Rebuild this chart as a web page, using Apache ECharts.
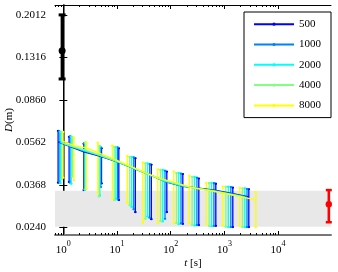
<!DOCTYPE html>
<html><head><meta charset="utf-8">
<script src="https://cdn.jsdelivr.net/npm/echarts@6/dist/echarts.min.js"></script>
<style>html,body{margin:0;padding:0;background:#fff}#c{width:338px;height:272px}</style>
</head><body><div id="c"></div>
<script>
// ---------- data ----------
const seriesNames = ['500', '1000', '2000', '4000', '8000'];
const yTickLabels = ['0.0240', '0.0368', '0.0562', '0.0860', '0.1316', '0.2012'];
const xTickExponents = [0, 1, 2, 3, 4];

const times500  = [0.800, 1.282, 2.409, 5.145, 10.80, 21.92, 43.52, 84.6, 168.0, 333.7, 691.6, 1433, 2848];
const mean500   = [0.0565, 0.0542, 0.0511, 0.0488, 0.0460, 0.0431, 0.0404, 0.0378, 0.0362, 0.0356, 0.0348, 0.0337, 0.0326];
const hi500     = [0.0632, 0.0595, 0.0555, 0.0530, 0.0530, 0.0480, 0.0450, 0.0420, 0.0410, 0.0392, 0.0372, 0.0358, 0.0352];
const lo500     = [0.0376, 0.0378, 0.0349, 0.0373, 0.0316, 0.0280, 0.0261, 0.0280, 0.0249, 0.0246, 0.0244, 0.0241, 0.0241];

const times1000 = [0.835, 1.335, 2.461, 4.985, 10.22, 20.46, 40.47, 78.3, 155.5, 307.5, 637.7, 1316, 2636];
const mean1000  = [0.0565, 0.0542, 0.0514, 0.0492, 0.0463, 0.0434, 0.0407, 0.0381, 0.0365, 0.0356, 0.0348, 0.0337, 0.0326];
const hi1000    = [0.0628, 0.0598, 0.0558, 0.0535, 0.0535, 0.0484, 0.0453, 0.0424, 0.0412, 0.0395, 0.0374, 0.0360, 0.0353];
const lo1000    = [0.0380, 0.0376, 0.0352, 0.0360, 0.0320, 0.0288, 0.0265, 0.0262, 0.0250, 0.0246, 0.0244, 0.0241, 0.0241];

const times2000 = [0.881, 1.403, 2.525, 4.783, 9.54, 18.78, 36.98, 71.1, 141.2, 277.5, 575.3, 1182, 2399];
const mean2000  = [0.0562, 0.0540, 0.0517, 0.0494, 0.0466, 0.0437, 0.0410, 0.0384, 0.0367, 0.0356, 0.0348, 0.0337, 0.0326];
const hi2000    = [0.0625, 0.0596, 0.0560, 0.0540, 0.0537, 0.0487, 0.0456, 0.0427, 0.0414, 0.0398, 0.0375, 0.0361, 0.0355];
const lo2000    = [0.0374, 0.0372, 0.0350, 0.0330, 0.0318, 0.0295, 0.0268, 0.0255, 0.0248, 0.0245, 0.0243, 0.0241, 0.0241];

const times4000 = [0.930, 1.477, 2.596, 4.603, 8.89, 17.24, 33.73, 64.6, 128.2, 250.9, 520.0, 1062, 2174];
const mean4000  = [0.0562, 0.0540, 0.0520, 0.0496, 0.0470, 0.0442, 0.0415, 0.0389, 0.0372, 0.0358, 0.0348, 0.0337, 0.0326];
const hi4000    = [0.0622, 0.0592, 0.0562, 0.0545, 0.0537, 0.0487, 0.0456, 0.0427, 0.0414, 0.0398, 0.0375, 0.0361, 0.0355];
const lo4000    = [0.0390, 0.0400, 0.0352, 0.0327, 0.0316, 0.0300, 0.0262, 0.0256, 0.0251, 0.0247, 0.0244, 0.0242, 0.0241];

const times8000 = [0.991, 1.569, 2.682, 4.390, 8.18, 15.55, 30.22, 57.5, 114.2, 222.0, 460.3, 933.8, 1936, 3843];
const mean8000  = [0.0568, 0.0545, 0.0532, 0.0508, 0.0479, 0.0449, 0.0420, 0.0394, 0.0377, 0.0360, 0.0350, 0.0339, 0.0328, 0.0316];
const hi8000    = [0.0625, 0.0590, 0.0561, 0.0561, 0.0545, 0.0490, 0.0460, 0.0430, 0.0420, 0.0402, 0.0375, 0.0361, 0.0357, 0.0343];
const lo8000    = [0.0395, 0.0385, 0.0355, 0.0340, 0.0320, 0.0307, 0.0251, 0.0251, 0.0251, 0.0250, 0.0248, 0.0245, 0.0244, 0.0241];

// reference points: [t, mean, lo, hi]
const blackPoint = [0.95, 0.1408, 0.1061, 0.2014];
const redPoint = [87900, 0.0303, 0.0253, 0.0349];
const bandRange = [0.0242, 0.0347];

// ---------- styling / layout ----------
const colors = ['#0000ff', '#0080ff', '#00ffff', '#80ff80', '#ffff00'];
const allTimes = [times500, times1000, times2000, times4000, times8000];
const allMean = [mean500, mean1000, mean2000, mean4000, mean8000];
const allLo = [lo500, lo1000, lo2000, lo4000, lo8000];
const allHi = [hi500, hi1000, hi2000, hi4000, hi8000];

const L = Math.log10;
const xMin = L(0.7), xMax = 4.985;
const yStep = (L(0.2012) - L(0.0240)) / 5;
const yMin = L(0.0240) - 0.176 * yStep, yMax = L(0.0240) + 5.235 * yStep;
const yTicks = yTickLabels.map(s => L(parseFloat(s)));
const minorX = [];
for (let e = -1; e < 4; e++) for (let m = 2; m <= 9; m++) { const v = L(m * Math.pow(10, e)); if (v >= xMin) minorX.push(v); }
const serif = 'Liberation Serif, Times New Roman, serif';

function errRender(color, lw, capW, dotR) {
  return function (params, api) {
    const x = api.value(0);
    const pLo = api.coord([x, api.value(1)]);
    const pHi = api.coord([x, api.value(2)]);
    const ch = [
      { type: 'line', shape: { x1: pLo[0], y1: pLo[1], x2: pHi[0], y2: pHi[1] }, style: { stroke: color, lineWidth: lw } },
      { type: 'line', shape: { x1: pLo[0] - capW, y1: pLo[1], x2: pLo[0] + capW, y2: pLo[1] }, style: { stroke: color, lineWidth: lw } },
      { type: 'line', shape: { x1: pHi[0] - capW, y1: pHi[1], x2: pHi[0] + capW, y2: pHi[1] }, style: { stroke: color, lineWidth: lw } }
    ];
    if (dotR > 0) {
      ch.push({ type: 'circle', shape: { cx: pLo[0], cy: pLo[1], r: dotR }, style: { fill: color } });
      ch.push({ type: 'circle', shape: { cx: pHi[0], cy: pHi[1], r: dotR }, style: { fill: color } });
    }
    return { type: 'group', children: ch };
  };
}

const series = [];
series.push({
  type: 'line', data: [], silent: true, z: 0,
  markArea: { silent: true, itemStyle: { color: '#e8e8e8' }, data: [[{ yAxis: L(bandRange[0]) }, { yAxis: L(bandRange[1]) }]] }
});
for (let s = 0; s < 5; s++) {
  series.push({
    type: 'custom', z: 2, silent: true,
    renderItem: errRender(colors[s], 1.3, 1.2, 1.1),
    data: allTimes[s].map((t, i) => [L(t), L(allLo[s][i]), L(allHi[s][i])])
  });
}
for (let s = 0; s < 5; s++) {
  series.push({
    type: 'line', name: seriesNames[s], z: 3, silent: true,
    symbol: 'circle', symbolSize: 2, showSymbol: false,
    lineStyle: { color: colors[s], width: 1.3 }, itemStyle: { color: colors[s] },
    data: allTimes[s].map((t, i) => [L(t), L(allMean[s][i])])
  });
}
series.push({
  type: 'custom', z: 4, silent: true, renderItem: (p, api) => {
    const g = errRender('#000', 3, 3.5, 0)(p, api);
    const c = api.coord([api.value(0), api.value(3)]);
    g.children.push({ type: 'circle', shape: { cx: c[0], cy: c[1], r: 3.5 }, style: { fill: '#000' } });
    return g;
  },
  data: [[L(blackPoint[0]), L(blackPoint[2]), L(blackPoint[3]), L(blackPoint[1])]]
});
series.push({
  type: 'custom', z: 4, silent: true, renderItem: (p, api) => {
    const g = errRender('#ff0000', 2.5, 3, 0)(p, api);
    const c = api.coord([api.value(0), api.value(3)]);
    g.children.push({ type: 'circle', shape: { cx: c[0], cy: c[1], r: 3.2 }, style: { fill: '#ff0000' } });
    return g;
  },
  data: [[L(redPoint[0]), L(redPoint[2]), L(redPoint[3]), L(redPoint[1])]]
});

const baseX = { type: 'value', min: xMin, max: xMax, splitLine: { show: false } };
const baseY = { type: 'value', min: yMin, max: yMax, splitLine: { show: false } };

const option = {
  animation: false,
  backgroundColor: '#fff',
  grid: { left: 55, right: 7, top: 5, bottom: 37, containLabel: false, outerBoundsMode: 'none' },
  legend: {
    data: seriesNames, orient: 'vertical', left: 244, top: 12,
    padding: [6.7, 10, 6.7, 9], itemWidth: 40, itemHeight: 4, itemGap: 9.3,
    borderColor: '#000', borderWidth: 1, backgroundColor: '#fff',
    textStyle: { fontFamily: serif, fontSize: 11, color: '#000' }
  },
  xAxis: [
    Object.assign({}, baseX, {
      position: 'bottom',
      axisLine: { show: true, lineStyle: { color: '#777', width: 2 } },
      axisTick: { show: true, inside: true, length: 4, customValues: xTickExponents, lineStyle: { color: '#000' } },
      axisLabel: {
        customValues: xTickExponents, margin: 5, formatter: v => '{b|10}{s|' + Math.round(v) + '}',
        rich: { b: { fontFamily: serif, fontSize: 11, color: '#000', lineHeight: 16, verticalAlign: 'bottom' },
                s: { fontFamily: serif, fontSize: 8, color: '#000', verticalAlign: 'top' } }
      },
      name: '{i|t} [s]', nameLocation: 'middle', nameGap: 23, nameMoveOverlap: false,
      nameTextStyle: { fontFamily: serif, fontSize: 11, color: '#000', rich: { i: { fontFamily: serif, fontStyle: 'italic', fontSize: 11 } } }
    }),
    Object.assign({}, baseX, {
      position: 'bottom', axisLine: { show: false }, axisLabel: { show: false },
      axisTick: { show: true, inside: true, length: 2, customValues: minorX, lineStyle: { color: '#000' } }
    }),
    Object.assign({}, baseX, {
      position: 'top', axisLine: { show: true, lineStyle: { color: '#000', width: 1 } }, axisLabel: { show: false },
      axisTick: { show: true, inside: true, length: 4, customValues: xTickExponents, lineStyle: { color: '#000' } }
    }),
    Object.assign({}, baseX, {
      position: 'top', axisLine: { show: false }, axisLabel: { show: false },
      axisTick: { show: true, inside: true, length: 2, customValues: minorX, lineStyle: { color: '#000' } }
    })
  ],
  yAxis: [
    Object.assign({}, baseY, {
      position: 'left',
      axisLine: { show: true, lineStyle: { color: '#777', width: 2 } },
      axisTick: { show: true, inside: true, length: 4, customValues: yTicks, lineStyle: { color: '#000' } },
      axisLabel: {
        customValues: yTicks, margin: 9, fontFamily: serif, fontSize: 11, color: '#000',
        formatter: v => { let best = 0; yTicks.forEach((tv, i) => { if (Math.abs(tv - v) < Math.abs(yTicks[best] - v)) best = i; }); return yTickLabels[best]; }
      },
      name: '{i|D}(m)', nameLocation: 'middle', nameGap: 40, nameRotate: 90, nameMoveOverlap: false,
      nameTextStyle: { fontFamily: serif, fontSize: 11, color: '#000', rich: { i: { fontFamily: serif, fontStyle: 'italic', fontSize: 11 } } }
    }),
    Object.assign({}, baseY, {
      position: 'right', axisLine: { show: true, lineStyle: { color: '#000', width: 1 } }, axisLabel: { show: false },
      axisTick: { show: true, inside: true, length: 4, customValues: yTicks, lineStyle: { color: '#000' } }
    })
  ],
  series: series
};
const chart = echarts.init(document.getElementById('c'), null, { renderer: 'canvas' });
chart.setOption(option);
</script></body></html>
